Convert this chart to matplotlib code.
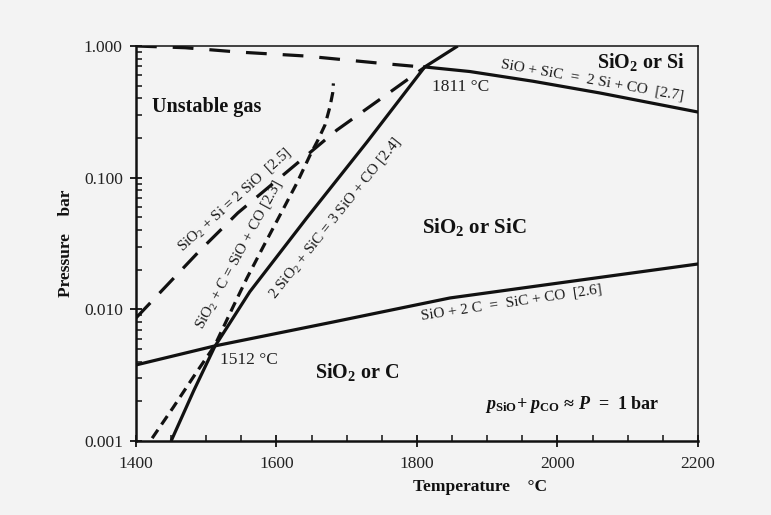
import matplotlib
matplotlib.use("Agg")
import matplotlib.pyplot as plt
from matplotlib.ticker import LogLocator, NullFormatter, MultipleLocator

plt.rcParams['font.family'] = ['Liberation Serif', 'DejaVu Serif']
plt.rcParams['mathtext.fontset'] = 'custom'
plt.rcParams['mathtext.rm'] = 'Liberation Serif'
plt.rcParams['mathtext.bf'] = 'Liberation Serif:bold'
plt.rcParams['mathtext.it'] = 'Liberation Serif:italic:bold'

# --- data (T in degC, P in bar) ---
# [2.4] 2 SiO2 + SiC = 3 SiO + CO  (solid)
t_24 = [1450, 1482, 1512, 1562, 1643, 1729, 1811, 1858]
p_24 = [0.001, 0.0024, 0.0052, 0.0136, 0.0494, 0.187, 0.693, 1.0]
# [2.3] SiO2 + C = SiO + CO  (short dash)
t_23 = [1423, 1453, 1484, 1512, 1538, 1558, 1581, 1609, 1629, 1648, 1659, 1669, 1676, 1680, 1681]
p_23 = [0.00105, 0.0018, 0.0032, 0.0053, 0.0104, 0.0173, 0.0298, 0.057, 0.091, 0.149, 0.193,
        0.251, 0.344, 0.44, 0.52]
# [2.5] SiO2 + Si = 2 SiO  (long dash)
t_25 = [1400, 1491, 1545, 1605, 1686, 1752, 1811]
p_25 = [0.0086, 0.028, 0.054, 0.10, 0.23, 0.41, 0.69]
# top boundary, total pressure (long dash)
t_top = [1400, 1470, 1545, 1640, 1747, 1811]
p_top = [1.0, 0.97, 0.90, 0.84, 0.74, 0.69]
# [2.7] SiO + SiC = 2 Si + CO  (solid)
t_27 = [1811, 1875, 1965, 2060, 2200]
p_27 = [0.693, 0.64, 0.54, 0.44, 0.315]
# [2.6] SiO + 2 C = SiC + CO  (solid)
t_26 = [1400, 1512, 1680, 1847, 2004, 2200]
p_26 = [0.00378, 0.00527, 0.0080, 0.0122, 0.0159, 0.0221]

x_ticks = [1400, 1600, 1800, 2000, 2200]
y_ticks = [0.001, 0.01, 0.1, 1.0]
y_tick_labels = ['0.001', '0.010', '0.100', '1.000']

ink = '#111111'
bg = '#f3f3f3'

fig = plt.figure(figsize=(7.71, 5.15), dpi=100, facecolor=bg)
ax = fig.add_axes([0.1764, 0.1437, 0.7289, 0.767], facecolor=bg)

lw = 2.3
ax.plot(t_24, p_24, color=ink, lw=lw, solid_capstyle='butt')
ax.plot(t_23, p_23, color=ink, lw=lw, dashes=(3.2, 2.0))
ax.plot(t_25, p_25, color=ink, lw=lw, dashes=(6.5, 4.2))
ax.plot(t_top, p_top, color=ink, lw=lw, dashes=(6.5, 5.0))
ax.plot(t_27, p_27, color=ink, lw=lw)
ax.plot(t_26, p_26, color=ink, lw=lw)

ax.set_yscale('log')
ax.set_xlim(1400, 2200)
ax.set_ylim(0.001, 1.0)

ax.set_xticks(x_ticks)
ax.xaxis.set_minor_locator(MultipleLocator(50))
ax.set_yticks(y_ticks, labels=y_tick_labels)
ax.yaxis.set_minor_locator(LogLocator(base=10, subs=range(2, 10)))
ax.yaxis.set_minor_formatter(NullFormatter())

ax.tick_params(which='major', direction='inout', length=9, width=1.3, labelsize=12.5,
               color=ink, labelcolor='#222222')
ax.tick_params(which='minor', direction='in', length=4.5, width=1.1, color=ink)
ax.tick_params(axis='x', which='major', pad=6)
ax.tick_params(axis='y', which='major', pad=5)

for side in ['left', 'bottom']:
    ax.spines[side].set_linewidth(1.8)
for side in ['top', 'right']:
    ax.spines[side].set_linewidth(1.1)
for s in ax.spines.values():
    s.set_color(ink)

ax.set_xlabel('Temperature    °C', fontsize=12.5, fontweight='bold', color=ink)
ax.xaxis.set_label_coords(0.612, -0.095)
ax.set_ylabel('Pressure    bar', fontsize=12.5, fontweight='bold', color=ink, va='center')
ax.yaxis.set_label_coords(-0.125, 0.5)

# region labels
bold = dict(fontsize=14.5, fontweight='bold', color=ink)
ax.text(1501, 0.344, 'Unstable gas', ha='center', va='center', **bold)
ax.text(2181, 0.68, r'SiO$_\mathbf{2}$ or Si', ha='right', va='baseline', **bold)
ax.text(1881, 0.042, r'SiO$_\mathbf{2}$ or SiC', ha='center', va='center', fontsize=15,
        fontweight='bold', color=ink)
ax.text(1715, 0.00335, r'SiO$_\mathbf{2}$ or C', ha='center', va='center', **bold)

ax.text(1821, 0.49, '1811 °C', ha='left', va='center', fontsize=12.5, color='#222222')
ax.text(1520, 0.00413, '1512 °C', ha='left', va='center', fontsize=12.5, color='#222222')

# reaction labels along the lines
rx = dict(fontsize=11, color='#1a1a1a', ha='center', va='center', rotation_mode='anchor')
ax.text(2049, 0.552, 'SiO + SiC  =  2 Si + CO  [2.7]', rotation=-10, **rx)
ax.text(1935, 0.0112, 'SiO + 2 C  =  SiC + CO  [2.6]', rotation=8.5, **rx)
ax.text(1540, 0.0677, r'SiO$_2$ + Si = 2 SiO  [2.5]', rotation=42, **rx)
ax.text(1546, 0.0262, r'SiO$_2$ + C = SiO + CO [2.3]', rotation=61.5, **rx)
ax.text(1683, 0.0494, r'2 SiO$_2$ + SiC = 3 SiO + CO [2.4]', rotation=51.3, **rx)

ax.text(2021, 0.00188, r'$\mathit{p}_{\mathbf{SiO}}$+ $\mathit{p}_{\mathbf{CO}}$ ≈ $\mathit{P}$  =  1 bar',
        ha='center', va='center', fontsize=13, fontweight='bold', color=ink)

fig.savefig('out.png', dpi=100, facecolor=bg)
